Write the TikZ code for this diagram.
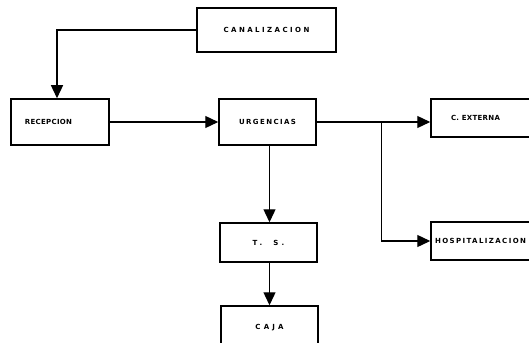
\documentclass[tikz,border=0pt]{standalone}
\usepackage{fontspec}
\newfontfamily\lblfont{DejaVu Sans}
\usetikzlibrary{arrows.meta}
\tikzset{
  box/.style={draw, line width=1.5pt, inner sep=0pt},
  lbl/.style={font=\lblfont\bfseries\fontsize{7}{8}\selectfont\addfontfeature{LetterSpace=#1}},
  lbl/.default=20,
  arr/.style={line width=1.3pt, -{Triangle[length=13pt,width=12pt]}},
}
\begin{document}
\begin{tikzpicture}[x=1pt,y=1pt]
\useasboundingbox (0,0) rectangle (529,-342);
% boxes
\node[box, minimum width=139, minimum height=44, lbl=35] (can) at (266.5,-30) {CANALIZACION};
\node[box, minimum width=98, minimum height=46, lbl=4] (rec) at (60,-122) {RECEPCION\hspace*{23pt}};
\node[box, minimum width=97, minimum height=46, lbl=20] (urg) at (267.5,-122) {URGENCIAS};
\node[box, minimum width=109, minimum height=38, lbl=4] (cext) at (485.5,-118) {C. EXTERNA\hspace*{20pt}};
\node[box, minimum width=97, minimum height=39, lbl=45] (ts) at (268.5,-242.5) {T.~~S.};
\node[box, minimum width=97, minimum height=44, lbl=45] (caja) at (269.5,-328) {CAJA};
\node[box, minimum width=109, minimum height=38, lbl=20] (hosp) at (485.5,-241) {HOSPITALIZACION\hspace*{10pt}};
% connectors
\draw[arr] (can.west) -| ([xshift=-3pt]rec.north);
\draw[arr] (rec.east) -- (rec.east -| urg.west);
\draw[arr] (urg.east) -- (urg.east -| cext.west);
\coordinate (br) at ([xshift=65pt]urg.east);
\draw[arr] (br) |- (hosp.west);
\draw[arr] ([xshift=2pt]urg.south) -- ([xshift=2pt]urg.south |- ts.north);
\draw[arr] ([xshift=1pt]ts.south) -- ([xshift=1pt]ts.south |- caja.north);
\end{tikzpicture}
\end{document}
